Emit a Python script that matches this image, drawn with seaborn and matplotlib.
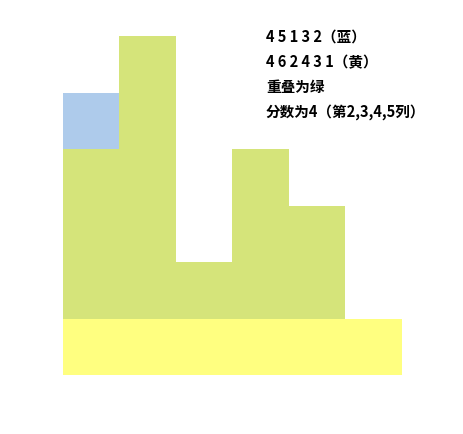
import matplotlib
matplotlib.use("Agg")
import matplotlib.pyplot as plt
import seaborn as sns
import pandas as pd

# columns and the two series (blue sits one unit above the yellow base)
cols = ["1", "2", "3", "4", "5", "6"]
blue = [4, 5, 1, 3, 2]
yellow = [4, 6, 2, 4, 3, 1]
blue_offset = 1

labels = ["4 5 1 3 2（蓝）", "4 6 2 4 3 1（黄）", "重叠为绿", "分数为4（第2,3,4,5列）"]

sns.set_style("white")
plt.rcParams["font.family"] = ["Noto Sans CJK SC", "DejaVu Sans"]

df_y = pd.DataFrame({"col": cols, "h": yellow})
df_b = pd.DataFrame({"col": cols[:len(blue)], "h": [v + blue_offset for v in blue]})
df_g = pd.DataFrame({"col": cols[:len(blue)],
                     "h": [min(y, b + blue_offset) for y, b in zip(yellow, blue)]})
df_base = pd.DataFrame({"col": cols, "h": [min(blue_offset, y) for y in yellow]})

fig = plt.figure(figsize=(4.64, 4.34), dpi=100)
ax = fig.add_axes([63 / 464, 59 / 434, 339 / 464, 339 / 434])

kw = dict(x="col", y="h", order=cols, width=1.0, linewidth=0, ax=ax, errorbar=None)
sns.barplot(data=df_y, color="#FFFF80", saturation=1, **kw)
sns.barplot(data=df_b, color="#AECBEB", saturation=1, **kw)
sns.barplot(data=df_g, color="#D5E47A", saturation=1, **kw)
sns.barplot(data=df_base, color="#FFFF80", saturation=1, **kw)

ax.set_xlim(-0.5, 5.5)
ax.set_ylim(0, 6)
ax.axis("off")

for i, t in enumerate(labels):
    fig.text(266 / 464, 1 - (37 + i * 25) / 434, t, fontsize=10.5,
             fontweight="bold", color="black", va="center", ha="left")

fig.savefig("out.png", dpi=100)
